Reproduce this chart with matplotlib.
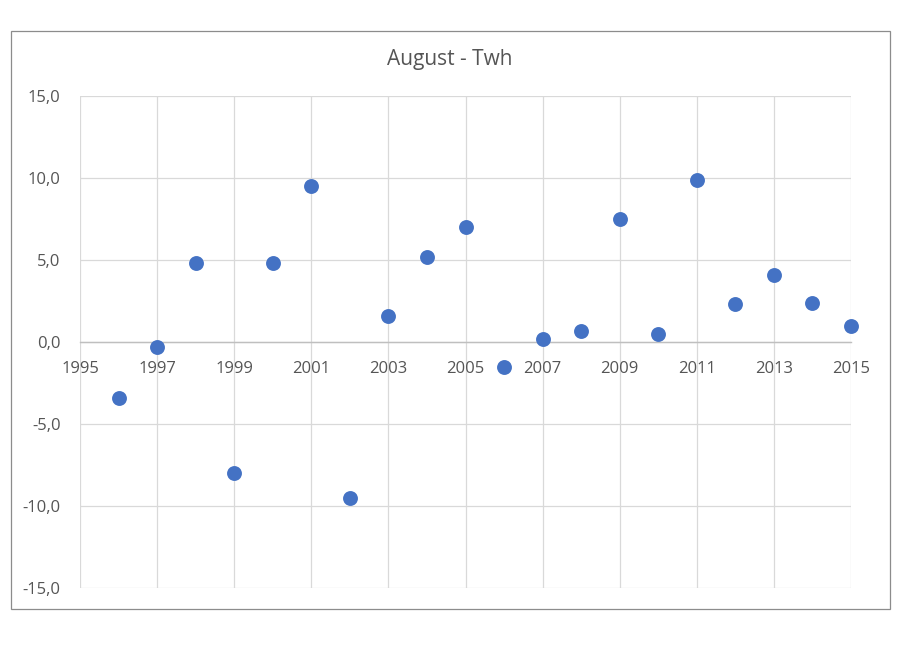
import matplotlib
matplotlib.use('Agg')
import matplotlib.pyplot as plt
from matplotlib.patches import Rectangle
from matplotlib.ticker import FuncFormatter

plt.rcParams.update({'font.family': ['Open Sans', 'DejaVu Sans']})

years = [1996, 1997, 1998, 1999, 2000, 2001, 2002, 2003, 2004, 2005,
         2006, 2007, 2008, 2009, 2010, 2011, 2012, 2013, 2014, 2015]
twh = [-3.4, -0.3, 4.8, -8.0, 4.8, 9.5, -9.5, 1.6, 5.2, 7.0,
       -1.5, 0.2, 0.7, 7.5, 0.5, 9.9, 2.3, 4.1, 2.4, 1.0]

W, H = 916, 649
fig = plt.figure(figsize=(W/100, H/100), dpi=100)

# outer chart border
fig.patches.append(Rectangle((11/W, 1-609/H), 879/W, 578/H, transform=fig.transFigure,
                             fill=False, edgecolor='#8c8c8c', linewidth=0.9))

ax = fig.add_axes([80/W, 1-588/H, 771/W, 492/H])
ax.scatter(years, twh, s=115, color='#4472c4', zorder=3, linewidths=0, clip_on=False)

ax.set_xlim(1995, 2015)
ax.set_ylim(-15, 15)
ax.set_xticks(range(1995, 2016, 2))
ax.set_yticks(range(-15, 16, 5))
ax.yaxis.set_major_formatter(FuncFormatter(lambda v, p: '{:.1f}'.format(v).replace('.', ',')))

ax.grid(True, color='#d9d9d9', linewidth=0.9)
ax.set_axisbelow(True)
for s in ['top', 'right', 'left']:
    ax.spines[s].set_visible(False)
ax.spines['bottom'].set_position(('data', 0))
ax.spines['bottom'].set_color('#bfbfbf')
ax.spines['bottom'].set_linewidth(1.0)
ax.tick_params(length=0, labelsize=12, labelcolor='#555555')
ax.tick_params(axis='x', pad=14)
ax.tick_params(axis='y', pad=14)

fig.text(450/W, 1-60/H, 'August - Twh', ha='center', va='center', fontsize=15, color='#555555')

fig.savefig('out.png', dpi=100)
